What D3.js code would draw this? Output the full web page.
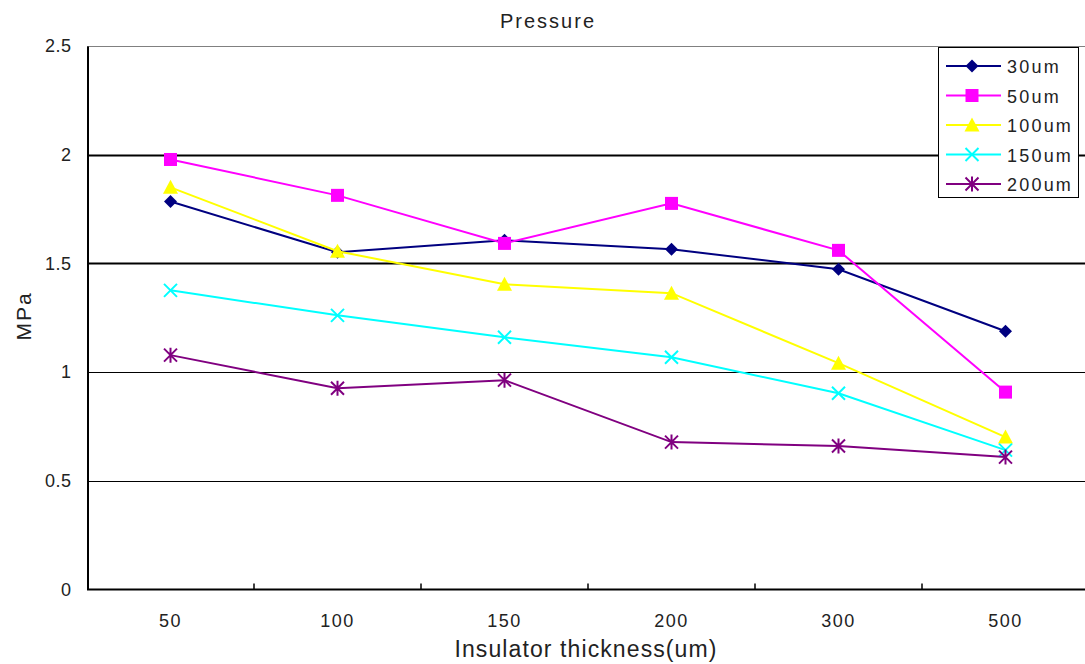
<!DOCTYPE html>
<html>
<head>
<meta charset="utf-8">
<script src="https://cdn.jsdelivr.net/npm/d3@7"></script>
<style>
  body { margin: 0; background: #fff; }
  svg { display: block; font-family: "Liberation Sans", Arial, sans-serif; }
</style>
</head>
<body>
<svg id="chart" width="1085" height="664"></svg>
<script>
// Insulator thickness categories (um)
const categories = ["50", "100", "150", "200", "300", "500"];
const seriesNames = ["30um", "50um", "100um", "150um", "200um"];
const s30 = [1.785, 1.551, 1.606, 1.565, 1.473, 1.188];
const s50 = [1.978, 1.813, 1.592, 1.776, 1.560, 0.908];
const s100 = [1.850, 1.556, 1.404, 1.363, 1.041, 0.701];
const s150 = [1.376, 1.261, 1.160, 1.068, 0.903, 0.641];
const s200 = [1.078, 0.926, 0.963, 0.678, 0.660, 0.609];
const yTicks = [0, 0.5, 1, 1.5, 2, 2.5];

const colors = ["#000080", "#FF00FF", "#FFFF00", "#00FFFF", "#800080"];
const markers = ["diamond", "square", "triangle", "cross", "star"];
const seriesValues = [s30, s50, s100, s150, s200];

const svg = d3.select("#chart");
const m = { left: 87, top: 46, right: 1089, bottom: 589.5 };

const x = d3.scaleBand().domain(categories).range([m.left, m.right]).padding(0);
const y = d3.scaleLinear().domain([0, 2.5]).range([m.bottom, m.top]);

// horizontal gridlines
svg.append("g").selectAll("line")
  .data(yTicks.filter(d => d > 0))
  .join("line")
  .attr("x1", m.left).attr("x2", 1085)
  .attr("y1", d => Math.round(y(d)) + 0.5).attr("y2", d => Math.round(y(d)) + 0.5)
  .attr("stroke", d => d === 2.5 ? "#808080" : "#000")
  .attr("stroke-width", d => (d === 2 || d === 1.5) ? 2 : 1);

// y axis
const yAxis = d3.axisLeft(y).tickValues(yTicks).tickSize(0).tickPadding(16)
  .tickFormat(d => d3.format("")(d));
const gy = svg.append("g").attr("transform", `translate(${m.left + 0.5},0)`).call(yAxis);
gy.select(".domain").attr("stroke", "#000").attr("stroke-width", 2);
gy.selectAll("text").attr("font-size", 18).attr("fill", "#222").attr("letter-spacing", 0.5)
  .attr("font-family", "Liberation Sans, Arial, sans-serif");

// x axis: ticks at band boundaries, labels at band centres
const gx = svg.append("g").attr("transform", `translate(0,${m.bottom})`);
gx.append("line").attr("x1", m.left).attr("x2", 1085).attr("y1", 0).attr("y2", 0)
  .attr("stroke", "#000").attr("stroke-width", 2);
gx.selectAll("line.tk").data(categories.slice(1)).join("line").attr("class", "tk")
  .attr("x1", d => x(d)).attr("x2", d => x(d)).attr("y1", 0).attr("y2", -6)
  .attr("stroke", "#000").attr("stroke-width", 1.5);
gx.selectAll("text").data(categories).join("text")
  .attr("x", d => x(d) + x.bandwidth() / 2).attr("y", 37)
  .attr("text-anchor", "middle").attr("font-size", 18).attr("letter-spacing", 1.5).attr("fill", "#222")
  .text(d => d);

// titles
svg.append("text").attr("x", 548).attr("y", 28).attr("text-anchor", "middle")
  .attr("font-size", 20).attr("fill", "#222").attr("letter-spacing", 2).text("Pressure");
svg.append("text").attr("x", 586).attr("y", 657).attr("text-anchor", "middle")
  .attr("font-size", 23).attr("letter-spacing", 1.1).attr("fill", "#222").text("Insulator thickness(um)");
svg.append("text").attr("transform", "translate(31,316) rotate(-90)").attr("text-anchor", "middle")
  .attr("font-size", 21).attr("letter-spacing", 2).attr("fill", "#222").text("MPa");

function drawMarker(g, type, color) {
  const s = 6.5;
  if (type === "diamond") {
    g.append("path").attr("d", `M0,${-s}L${s},0L0,${s}L${-s},0Z`).attr("fill", color);
  } else if (type === "square") {
    g.append("rect").attr("x", -s).attr("y", -s).attr("width", 2 * s).attr("height", 2 * s).attr("fill", color);
  } else if (type === "triangle") {
    g.append("path").attr("d", `M0,${-s - 1}L${s + 1},${s}L${-s - 1},${s}Z`).attr("fill", color);
  } else if (type === "cross") {
    g.append("path").attr("d", `M${-s},${-s}L${s},${s}M${-s},${s}L${s},${-s}`)
      .attr("stroke", color).attr("stroke-width", 2).attr("fill", "none");
  } else if (type === "star") {
    g.append("path").attr("d", `M${-s},${-s}L${s},${s}M${-s},${s}L${s},${-s}M0,${-s - 1}L0,${s + 1}`)
      .attr("stroke", color).attr("stroke-width", 2).attr("fill", "none");
  }
}

const line = d3.line().x((d, i) => x(categories[i]) + x.bandwidth() / 2).y(d => y(d));

seriesValues.forEach((vals, k) => {
  const g = svg.append("g");
  g.append("path").datum(vals).attr("d", line).attr("fill", "none")
    .attr("stroke", colors[k]).attr("stroke-width", 2);
  vals.forEach((v, i) => {
    const mg = g.append("g").attr("transform", `translate(${x(categories[i]) + x.bandwidth() / 2},${y(v)})`);
    drawMarker(mg, markers[k], colors[k]);
  });
});

// legend
const lg = svg.append("g");
lg.append("rect").attr("x", 938.5).attr("y", 47.5).attr("width", 140).attr("height", 150)
  .attr("fill", "#fff").attr("stroke", "#000").attr("stroke-width", 1);
seriesNames.forEach((name, k) => {
  const yy = 66 + k * 29.5;
  lg.append("line").attr("x1", 946).attr("x2", 1001).attr("y1", yy).attr("y2", yy)
    .attr("stroke", colors[k]).attr("stroke-width", 2);
  drawMarker(lg.append("g").attr("transform", `translate(972,${yy})`), markers[k], colors[k]);
  lg.append("text").attr("x", 1007).attr("y", yy + 7).attr("font-size", 18)
    .attr("letter-spacing", 2.2).attr("fill", "#222").text(name);
});
</script>
</body>
</html>
